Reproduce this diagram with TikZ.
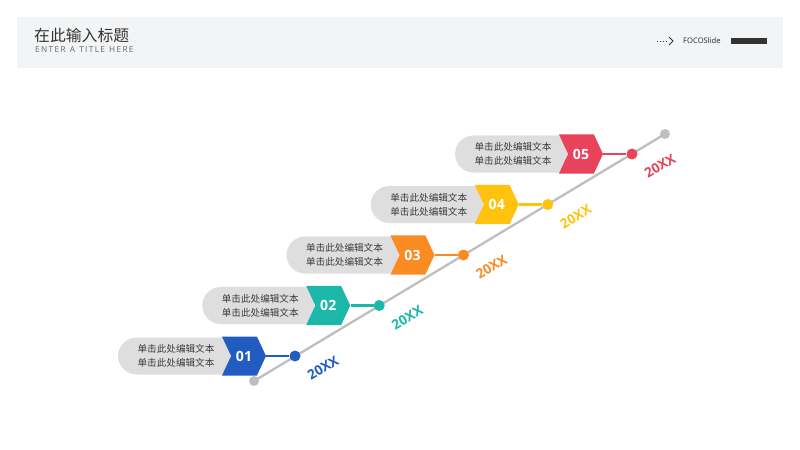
\documentclass[tikz,border=0pt]{standalone}
\usepackage{fontspec}
\setmainfont{Open Sans}
\newfontfamily\cjk{Noto Sans CJK SC}
\usetikzlibrary{shapes.misc,shapes.symbols}
\definecolor{cblue}{RGB}{33,92,194}
\definecolor{cteal}{RGB}{27,183,168}
\definecolor{corange}{RGB}{250,139,34}
\definecolor{cyellow}{RGB}{255,195,14}
\definecolor{cred}{RGB}{232,67,90}
\definecolor{pillgrey}{RGB}{222,222,222}
\definecolor{linegrey}{RGB}{191,191,191}
\definecolor{bandgrey}{RGB}{243,244,245}
\definecolor{textgrey}{RGB}{60,60,60}
\begin{document}
\begin{tikzpicture}[
  x=0.03cm, y=-0.03cm,
  pill/.style={rounded rectangle, rounded rectangle right arc=none, fill=pillgrey, minimum width=3.36cm, minimum height=1.11cm, inner sep=0pt, align=center, font=\cjk\fontsize{8.2}{11.9}\selectfont, text=textgrey},
  tag/.style={signal, signal to=east, signal from=west, signal pointer angle=130, minimum width=1.32cm, minimum height=1.17cm, inner sep=0pt, text=white, font=\bfseries\fontsize{12}{12}\selectfont},
  stop/.style={circle, fill=#1, minimum size=0.33cm, inner sep=0pt},
  year/.style={rotate=31, text=#1, font=\bfseries\fontsize{11.5}{12}\selectfont},
  link/.style={#1, line width=2pt}
]
\useasboundingbox (0,0) rectangle (800,450);
% header
\fill[bandgrey] (17,17) rectangle (783,68);
\node[anchor=west, inner sep=0pt, font=\cjk\fontsize{13.5}{16}\selectfont, text=black!80] (title) at (34,35) {在此输入标题};
\node[anchor=west, inner sep=0pt, font=\fontsize{7}{8}\selectfont, text=black!60] (subtitle) at (35,50) {E\,N\,T\,E\,R\ \ A\ \ T\,I\,T\,L\,E\ \ H\,E\,R\,E};
\coordinate (arrA) at (657,41);
\coordinate (arrB) at (668,41);
\draw[black!80, line width=0.6pt, dotted] (arrA) -- (arrB);
\draw[black!80, line width=0.7pt] (669,37) -- (673,41) -- (669,45);
\node[anchor=west, inner sep=0pt, font=\fontsize{6.5}{8}\selectfont, text=black!85] (brand) at (683,41) {FOCOSlide};
\fill[black!80] (731,38) rectangle (767,44);
% timeline
\node[circle, fill=linegrey, minimum size=0.3cm, inner sep=0pt] (s0) at (254,381) {};
\node[circle, fill=linegrey, minimum size=0.3cm, inner sep=0pt] (s6) at (665,134) {};
\draw[linegrey, line width=2pt] (s0.center) -- (s6.center);
% items
\node[pill] (p1) at (176,356) {单击此处编辑文本\\单击此处编辑文本};
\node[pill] (p2) at (260.25,305.5) {单击此处编辑文本\\单击此处编辑文本};
\node[pill] (p3) at (344.5,255) {单击此处编辑文本\\单击此处编辑文本};
\node[pill] (p4) at (428.75,204.5) {单击此处编辑文本\\单击此处编辑文本};
\node[pill] (p5) at (513,154) {单击此处编辑文本\\单击此处编辑文本};
\node[tag, fill=cblue] (t1) at (244,356) {01};
\node[tag, fill=cteal] (t2) at (328.25,305.5) {02};
\node[tag, fill=corange] (t3) at (412.5,255) {03};
\node[tag, fill=cyellow] (t4) at (496.75,204.5) {04};
\node[tag, fill=cred] (t5) at (581,154) {05};
\node[stop=cblue] (d1) at (295,356) {};
\node[stop=cteal] (d2) at (379.25,305.5) {};
\node[stop=corange] (d3) at (463.5,255) {};
\node[stop=cyellow] (d4) at (547.75,204.5) {};
\node[stop=cred] (d5) at (632,154) {};
\draw[link=cblue] (t1.east) -- (d1);
\draw[link=cteal] (t2.east) -- (d2);
\draw[link=corange] (t3.east) -- (d3);
\draw[link=cyellow] (t4.east) -- (d4);
\draw[link=cred] (t5.east) -- (d5);
\node[year=cblue] (y1) at (323,368) {20XX};
\node[year=cteal] (y2) at (407.25,317.5) {20XX};
\node[year=corange] (y3) at (491.5,267) {20XX};
\node[year=cyellow] (y4) at (575.75,216.5) {20XX};
\node[year=cred] (y5) at (660,166) {20XX};
\end{tikzpicture}
\end{document}
